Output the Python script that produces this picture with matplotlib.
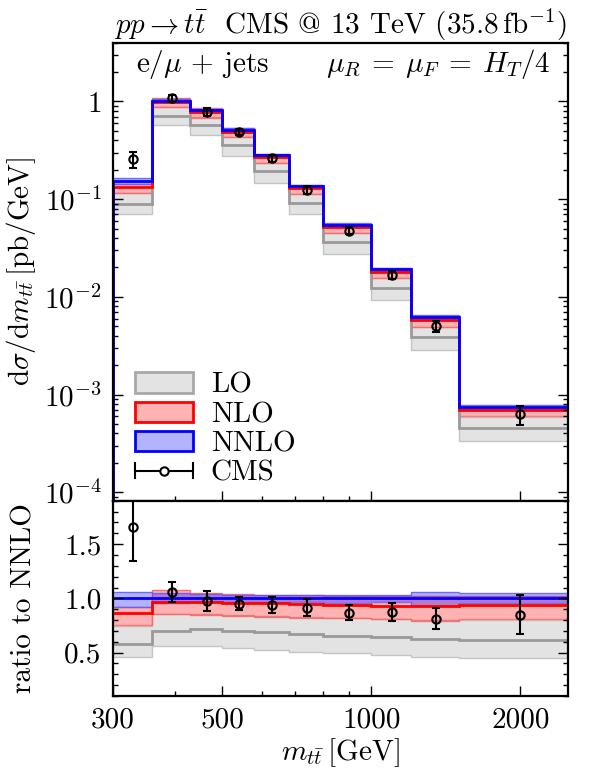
import matplotlib
matplotlib.use('Agg')
import matplotlib.pyplot as plt
import matplotlib.patches as mpatches
from matplotlib.lines import Line2D
from matplotlib.legend_handler import HandlerBase
from matplotlib.ticker import FixedLocator, FuncFormatter, MultipleLocator, NullFormatter
import numpy as np

plt.rcParams['font.family'] = 'serif'
plt.rcParams['font.serif'] = ['cmr10']
plt.rcParams['mathtext.fontset'] = 'cm'
plt.rcParams['axes.formatter.use_mathtext'] = True
plt.rcParams['font.size'] = 21

# bin edges (GeV) and CMS points
edges = [300, 360, 430, 500, 580, 680, 800, 1000, 1200, 1500, 2500]
cms_x = [330, 395, 465, 540, 630, 740, 900, 1100, 1350, 2000]

# NNLO central value in pb/GeV
nnlo = [0.154, 1.02, 0.809, 0.513, 0.282, 0.137, 0.055, 0.0192, 0.00618, 0.00074]

# everything else as ratio to NNLO
nnlo_lo_r = [0.92, 0.96, 0.965, 0.965, 0.965, 0.965, 0.96, 0.965, 0.93, 0.96]
nnlo_hi_r = [1.06, 1.05, 1.04, 1.035, 1.03, 1.03, 1.03, 1.035, 1.06, 1.05]
nlo_r = [0.869, 0.966, 0.97, 0.954, 0.954, 0.951, 0.936, 0.93, 0.93, 0.936]
nlo_lo_r = [0.756, 0.854, 0.847, 0.838, 0.83, 0.82, 0.82, 0.81, 0.79, 0.81]
nlo_hi_r = [0.92, 1.073, 1.05, 1.04, 1.03, 1.03, 1.02, 1.02, 1.02, 1.02]
lo_r = [0.582, 0.70, 0.717, 0.70, 0.686, 0.671, 0.656, 0.646, 0.625, 0.619]
lo_lo_r = [0.463, 0.558, 0.564, 0.54, 0.525, 0.51, 0.494, 0.48, 0.458, 0.45]
lo_hi_r = [0.747, 0.855, 0.86, 0.85, 0.84, 0.83, 0.82, 0.81, 0.80, 0.80]
cms_r = [1.655, 1.058, 0.975, 0.951, 0.936, 0.915, 0.869, 0.875, 0.814, 0.847]
cms_err_r = [0.313, 0.095, 0.092, 0.062, 0.075, 0.082, 0.068, 0.08, 0.10, 0.18]

orders = [
    # name, central, lo, hi, line color, face color, edge color
    ('LO', lo_r, lo_lo_r, lo_hi_r, '#9a9a9a', '#e3e3e3', '#c4c4c4'),
    ('NLO', nlo_r, nlo_lo_r, nlo_hi_r, '#ff0000', (1, 0, 0, 0.3), (1, 0.35, 0.35, 0.8)),
    ('NNLO', [1.0] * 10, nnlo_lo_r, nnlo_hi_r, '#0000ff', (0, 0, 1, 0.3), (0.35, 0.35, 1, 0.8)),
]


class CapHandler(HandlerBase):
    # horizontal bar with end caps and an open circle, like the data legend entry
    def create_artists(self, legend, orig_handle, xdescent, ydescent, width, height, fontsize, trans):
        y = height / 2 - ydescent
        x0, x1 = -xdescent, width - xdescent
        cap = height * 0.35
        arts = [
            Line2D([x0, x1], [y, y], color='k', lw=1.5),
            Line2D([x0, x0], [y - cap, y + cap], color='k', lw=1.5),
            Line2D([x1, x1], [y - cap, y + cap], color='k', lw=1.5),
            Line2D([(x0 + x1) / 2], [y], marker='o', mfc='white', mec='k', ms=6, mew=1.5),
        ]
        for a in arts:
            a.set_transform(trans)
        return arts


fig = plt.figure(figsize=(5.98, 7.69), dpi=100)
ax = fig.add_axes([0.1885, 0.3489, 0.7618, 0.5956])
rax = fig.add_axes([0.1885, 0.0949, 0.7618, 0.2540], sharex=ax)

nn = np.array(nnlo)
for name, c, lo, hi, lc, fc, ec in orders:
    c, lo, hi = np.array(c), np.array(lo), np.array(hi)
    # top panel
    ax.stairs(nn * hi, edges, baseline=nn * lo, fill=True, color=fc, lw=0)
    ax.stairs(nn * hi, edges, baseline=None, color=ec, lw=1)
    ax.stairs(nn * lo, edges, baseline=None, color=ec, lw=1)
    # ratio panel
    rax.stairs(hi, edges, baseline=lo, fill=True, color=fc, lw=0)
    rax.stairs(hi, edges, baseline=None, color=ec, lw=1)
    rax.stairs(lo, edges, baseline=None, color=ec, lw=1)

for name, c, lo, hi, lc, fc, ec in orders:
    c = np.array(c)
    ax.stairs(nn * c, edges, baseline=1e-9, color=lc, lw=2)
    rax.stairs(c, edges, baseline=None, color=lc, lw=2)

cr = np.array(cms_r)
ce = np.array(cms_err_r)
ax.errorbar(cms_x, nn * cr, yerr=nn * ce, fmt='o', mfc='none', mec='k', color='k',
            ms=6, mew=1.5, elinewidth=1.5, capsize=3, capthick=1.5, zorder=10)
rax.errorbar(cms_x, cr, yerr=ce, fmt='o', mfc='none', mec='k', color='k',
             ms=6, mew=1.5, elinewidth=1.5, capsize=3, capthick=1.5, zorder=10)

ax.set_xscale('log')
ax.set_yscale('log')
ax.set_xlim(300, 2500)
ax.set_ylim(8.2e-5, 4.0)
rax.set_ylim(0.1, 1.9)

def ylog_fmt(v, pos):
    e = int(round(np.log10(v)))
    if e == 0:
        return '1'
    return r'$10^{%d}$' % e

ax.yaxis.set_major_locator(FixedLocator([1e-4, 1e-3, 1e-2, 1e-1, 1]))
ax.yaxis.set_major_formatter(FuncFormatter(ylog_fmt))
ax.yaxis.set_minor_locator(FixedLocator([m * 10.0 ** e for e in range(-5, 1) for m in range(2, 10)]))
ax.yaxis.set_minor_formatter(NullFormatter())

rax.xaxis.set_major_locator(FixedLocator([300, 500, 1000, 2000]))
rax.xaxis.set_minor_locator(FixedLocator([400, 600, 700, 800, 900]))
rax.xaxis.set_major_formatter(FuncFormatter(lambda v, p: '%d' % v))
rax.xaxis.set_minor_formatter(NullFormatter())
plt.setp(ax.get_xticklabels(), visible=False)

rax.yaxis.set_major_locator(FixedLocator([0.5, 1.0, 1.5]))
rax.yaxis.set_major_formatter(FuncFormatter(lambda v, p: '%.1f' % v))
rax.yaxis.set_minor_locator(MultipleLocator(0.1))

for a in (ax, rax):
    a.tick_params(which='both', direction='in', right=True, top=False, width=1)
    a.tick_params(which='major', length=7, labelsize=21, pad=8)
    a.tick_params(which='minor', length=3.5)
    for s in a.spines.values():
        s.set_linewidth(1.6)

ax.set_ylabel(r'$\mathrm{d}\sigma/\mathrm{d}m_{t\bar{t}}\,[\mathrm{pb/GeV}]$', fontsize=21)
rax.set_ylabel('ratio to NNLO', fontsize=21)
ax.yaxis.set_label_coords(-0.165, 0.5)
rax.yaxis.set_label_coords(-0.165, 0.5)
rax.set_xlabel(r'$m_{t\bar{t}}\,[\mathrm{GeV}]$', fontsize=21, labelpad=2)

ax.set_title(r'$pp \to t\bar{t}$  CMS @ 13 TeV ($35.8\,\mathrm{fb}^{-1}$)', fontsize=21, pad=6)
ax.text(0.05, 0.935, r'e/$\mu$ + jets', transform=ax.transAxes, fontsize=21)
ax.text(0.96, 0.935, r'$\mu_R\:=\:\mu_F\:=\:H_T/4$', transform=ax.transAxes, fontsize=21, ha='right')

cms_handle = Line2D([], [], color='k')
handles = [
    mpatches.Patch(facecolor='#e3e3e3', edgecolor='#a8a8a8', lw=2),
    mpatches.Patch(facecolor='#ffb3b3', edgecolor='#ff0000', lw=2),
    mpatches.Patch(facecolor='#b3b3ff', edgecolor='#0000ff', lw=2),
    cms_handle,
]
leg = ax.legend(handles, ['LO', 'NLO', 'NNLO', 'CMS'], loc='lower left',
                bbox_to_anchor=(-0.009, -0.027), frameon=False, fontsize=21,
                handlelength=2.0, handleheight=0.7, handletextpad=0.6, labelspacing=0.1,
                handler_map={cms_handle: CapHandler()})

fig.savefig('out.png', dpi=100)
